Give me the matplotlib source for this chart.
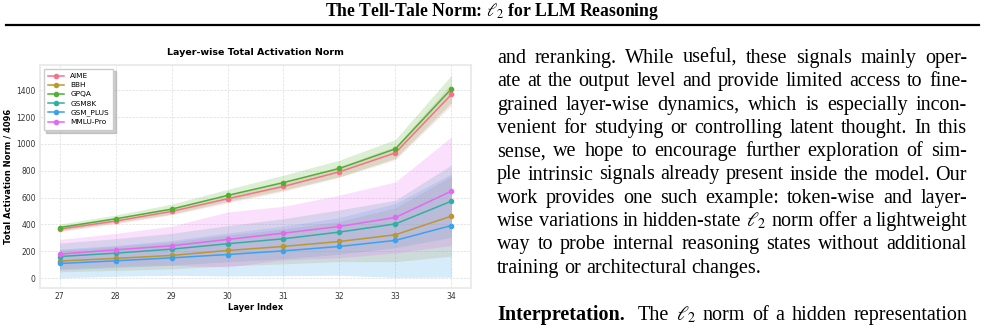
import matplotlib.pyplot as plt
import numpy as np
from matplotlib.lines import Line2D

plt.rcParams['font.family'] = 'DejaVu Sans'
plt.rcParams['mathtext.fontset'] = 'stix'

W, H = 985, 326

# chart data
layers = [27, 28, 29, 30, 31, 32, 33, 34]
datasets = ['AIME', 'BBH', 'GPQA', 'GSM8K', 'GSM_PLUS', 'MMLU-Pro']
colors = ['#f77189', '#bb9832', '#50b131', '#36ada4', '#3ba3ec', '#e866f4']

aime_mean = [365, 425, 497, 591, 683, 792, 933, 1368]
bbh_mean = [127, 147, 169, 206, 236, 273, 323, 462]
gpqa_mean = [377, 442, 514, 616, 712, 817, 963, 1410]
gsm8k_mean = [161, 186, 216, 256, 293, 343, 404, 573]
gsmplus_mean = [109, 129, 151, 176, 203, 236, 281, 392]
mmlu_mean = [179, 211, 241, 288, 335, 385, 452, 648]

aime_std = [18, 20, 25, 30, 35, 40, 50, 80]
bbh_std = [80, 90, 100, 115, 130, 150, 201, 298]
gpqa_std = [25, 28, 37, 45, 55, 62, 70, 102]
gsm8k_std = [100, 108, 118, 135, 150, 165, 177, 270]
gsmplus_std = [107, 115, 130, 160, 185, 215, 276, 385]
mmlu_std = [109, 122, 146, 205, 200, 233, 265, 404]

means = [aime_mean, bbh_mean, gpqa_mean, gsm8k_mean, gsmplus_mean, mmlu_mean]
stds = [aime_std, bbh_std, gpqa_std, gsm8k_std, gsmplus_std, mmlu_std]

# text column
header = r'The Tell-Tale Norm: $\ell_2$ for LLM Reasoning'
lines = [
    "and reranking.  While useful, these signals mainly oper-",
    "ate at the output level and provide limited access to fine-",
    "grained layer-wise dynamics, which is especially incon-",
    "venient for studying or controlling latent thought.  In this",
    "sense, we hope to encourage further exploration of sim-",
    "ple intrinsic signals already present inside the model.  Our",
    "work provides one such example:  token-wise and layer-",
    r"wise variations in hidden-state $\ell_2$ norm offer a lightweight",
    "way to probe internal reasoning states without additional",
    "training or architectural changes.",
]
last_bold = "Interpretation."
last_rest = r"The $\ell_2$ norm of a hidden representation"

fig = plt.figure(figsize=(W / 100, H / 100), dpi=100)
renderer = fig.canvas.get_renderer()

# header + rule
fig.text(0.5, 1 - 12 / H, header, ha='center', va='center',
         family='Liberation Serif', weight='bold', fontsize=12.7)
fig.add_artist(Line2D([6 / W, 979 / W], [1 - 25 / H] * 2, lw=1.6, color='black'))

# ---- chart ----
ax = fig.add_axes([40 / W, 1 - 288 / H, 431 / W, 223 / H])
for name, c, m, s in zip(datasets, colors, means, stds):
    m = np.array(m, dtype=float)
    s = np.array(s, dtype=float)
    ax.fill_between(layers, np.maximum(m - s, 0), m + s, color=c, alpha=0.2, lw=0)
    ax.plot(layers, m, marker='o', ms=3, lw=1.1, color=c, label=name)

ax.set_title('Layer-wise Total Activation Norm', fontsize=6.8, fontweight='bold', pad=7)
ax.set_xlabel('Layer Index', fontsize=6, fontweight='bold', labelpad=1.5)
ax.set_ylabel('Total Activation Norm / 4096', fontsize=6, fontweight='bold', labelpad=3)
ax.set_xticks(layers)
ax.set_yticks(range(0, 1401, 200))
ax.tick_params(labelsize=5.5, length=0, pad=3, colors='#333333')
ax.grid(True, ls='--', lw=0.5, color='#dddddd')
ax.set_axisbelow(True)
for sp in ax.spines.values():
    sp.set_color('#ebebeb')
    sp.set_linewidth(1.5)
ax.legend(loc='upper left', fontsize=5.3, shadow={'color': '#aaaaaa', 'alpha': 0.6},
          fancybox=False, framealpha=1, edgecolor='#cccccc', handlelength=2.2,
          borderpad=0.6, labelspacing=0.4)

# ---- justified text column ----
TEXT_L, TEXT_R = 497, 967
FS = 14.5


def put_line(words, y_base, justify=True, weights=None, extra=None):
    if weights is None:
        weights = ['normal'] * len(words)
    items = [fig.text(0, 1 - y_base / H, w, fontsize=FS, family='Liberation Serif',
                      weight=wt, va='baseline', ha='left')
             for w, wt in zip(words, weights)]
    widths = [t.get_window_extent(renderer).width for t in items]
    if justify and len(items) > 1:
        gap = (TEXT_R - TEXT_L - sum(widths) - (extra or 0)) / (len(items) - 1)
    else:
        gap = FS * 100 / 72 * 0.25
    x = TEXT_L
    for i, (t, w) in enumerate(zip(items, widths)):
        t.set_x(x / W)
        x += w + gap
        if extra and i == 0:
            x += extra


spacing = 23.3
y0 = 63
for i, ln in enumerate(lines):
    words = ln.split()
    put_line(words, y0 + i * spacing, justify=(i < len(lines) - 1))

rest = last_rest.split()
put_line([last_bold] + rest, 320, weights=['bold'] + ['normal'] * len(rest), extra=6)

fig.savefig('out.png', dpi=100)
